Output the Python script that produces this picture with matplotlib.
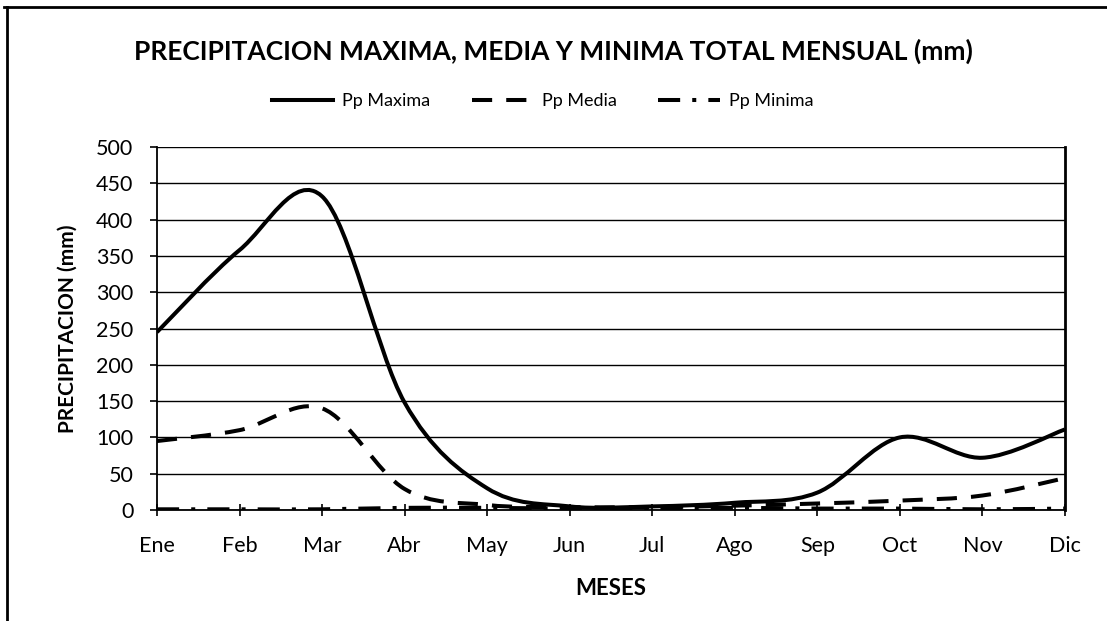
"""Monthly max / mean / min total precipitation, drawn as smoothed lines
in the style of a spreadsheet chart (black lines, horizontal grid only)."""

import matplotlib

matplotlib.use("Agg")
import matplotlib.pyplot as plt
import numpy as np
from matplotlib.lines import Line2D
from matplotlib.patches import PathPatch
from matplotlib.path import Path

plt.rcParams["font.family"] = ["Lato", "DejaVu Sans"]

MONTHS = ["Ene", "Feb", "Mar", "Abr", "May", "Jun",
          "Jul", "Ago", "Sep", "Oct", "Nov", "Dic"]
PP_MAX = [245, 358, 432, 148, 30, 5, 5, 10, 24, 100, 72, 111]
PP_MEDIA = [95, 110, 140, 29, 7, 4, 4, 6, 9, 13, 20, 44]
PP_MIN = [1, 1, 1, 3, 3, 2, 2, 3, 2, 2, 1, 2]


def smooth_path(xs, ys):
    """Cubic Bezier through every point (Catmull-Rom tangents)."""
    pts = np.column_stack([xs, ys]).astype(float)
    n = len(pts)
    verts = [pts[0]]
    codes = [Path.MOVETO]
    for i in range(n - 1):
        p0 = pts[max(i - 1, 0)]
        p1 = pts[i]
        p2 = pts[i + 1]
        p3 = pts[min(i + 2, n - 1)]
        c1 = p1 + (p2 - p0) / 6.0
        c2 = p2 - (p3 - p1) / 6.0
        verts += [c1, c2, p2]
        codes += [Path.CURVE4] * 3
    return Path(verts, codes)


def main() -> None:
    fig = plt.figure(figsize=(11.07, 6.21), dpi=100)
    ax = fig.add_axes([0.1418, 0.1787, 0.962 - 0.1418, 0.7633 - 0.1787])

    x = np.arange(len(MONTHS))
    styles = [
        ("Pp Maxima", PP_MAX, "-"),
        ("Pp Media", PP_MEDIA, (0, (5, 3.5))),
        ("Pp Minima", PP_MIN, (0, (5.5, 3, 1, 3))),
    ]
    handles = []
    for label, vals, ls in styles:
        patch = PathPatch(smooth_path(x, vals), facecolor="none",
                          edgecolor="black", lw=2.9, linestyle=ls,
                          capstyle="butt", zorder=3)
        ax.add_patch(patch)
        handles.append(Line2D([], [], color="black", lw=2.9, linestyle=ls,
                              label=label))

    ax.set_xlim(0, len(MONTHS) - 1)
    ax.set_ylim(0, 500)
    ax.set_yticks(np.arange(0, 501, 50))
    ax.set_xticks(x)
    ax.set_xticklabels(MONTHS)
    ax.yaxis.grid(True, color="black", lw=1.0)
    ax.set_axisbelow(True)

    ax.spines["top"].set_visible(False)
    ax.spines["left"].set_linewidth(1.3)
    ax.spines["bottom"].set_linewidth(1.3)
    ax.spines["right"].set_linewidth(2.0)
    ax.tick_params(axis="y", direction="out", length=5, width=1.2,
                   pad=12, labelsize=15.5)
    ax.tick_params(axis="x", direction="inout", length=9, width=1.2,
                   pad=14, labelsize=15.5)

    ax.set_ylabel("PRECIPITACION (mm)", fontsize=15, fontweight="bold",
                  labelpad=13)
    ax.set_xlabel("MESES", fontsize=16, fontweight="bold", labelpad=16)

    fig.text(0.5, 0.918, "PRECIPITACION MAXIMA, MEDIA Y MINIMA TOTAL MENSUAL (mm)",
             ha="center", va="center", fontsize=19, fontweight="bold")
    fig.legend(handles=handles, loc="center", bbox_to_anchor=(0.49, 0.837),
               ncol=3, frameon=False, fontsize=13, handlelength=3.4,
               columnspacing=2.3, handletextpad=0.5)

    # scanned page frame: left and top edges
    fig.add_artist(Line2D([0.006, 0.006], [0, 0.988], color="black", lw=2.0,
                          transform=fig.transFigure))
    fig.add_artist(Line2D([0.004, 1.0], [0.988, 0.988], color="black", lw=2.0,
                          transform=fig.transFigure))

    fig.savefig("out.png", dpi=100)


if __name__ == "__main__":
    main()
